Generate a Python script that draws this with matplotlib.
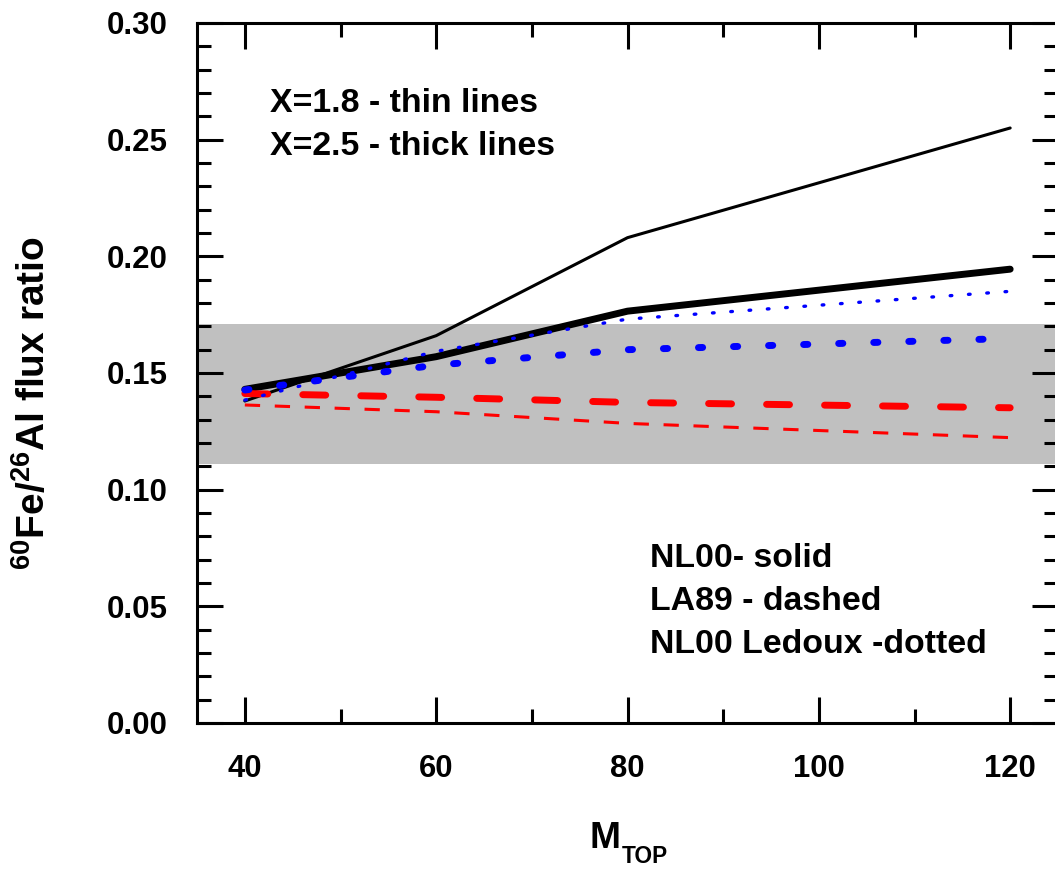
import matplotlib
matplotlib.use("Agg")
import matplotlib.pyplot as plt
from matplotlib.ticker import MultipleLocator, FormatStrFormatter

# ---- data ----
m_top = [40, 60, 80, 120]
nl00_x18 = [0.138, 0.166, 0.208, 0.255]
nl00_x25 = [0.143, 0.157, 0.1765, 0.1945]
la89_x18 = [0.1363, 0.1334, 0.1284, 0.1223]
la89_x25 = [0.1412, 0.1396, 0.1374, 0.1351]
ledoux_x18 = [0.1384, 0.1593, 0.1731, 0.185]
ledoux_x25 = [0.1427, 0.1534, 0.160, 0.1648]
band_low, band_high = 0.111, 0.171
x_ticks = [40, 60, 80, 100, 120]

plt.rcParams['font.family'] = ['Liberation Sans', 'DejaVu Sans']
plt.rcParams['font.weight'] = 'bold'
plt.rcParams['mathtext.default'] = 'regular'

W, H = 1055, 869
fig = plt.figure(figsize=(W / 100, H / 100), dpi=100)


def fx(px):
    return px / W


def fy(py):
    return (H - py) / H


ax = fig.add_axes([fx(197), fy(723), (1058 - 197) / W, (723 - 23) / H])

ax.axhspan(band_low, band_high, color='#c0c0c0', lw=0, zorder=0)

# solid (NL00)
ax.plot(m_top, nl00_x18, color='black', lw=2.2, solid_capstyle='round', zorder=2)
ax.plot(m_top, nl00_x25, color='black', lw=5.0, solid_capstyle='round', zorder=2)
# dashed (LA89)
ax.plot(m_top, la89_x18, color='red', lw=2.2, dashes=(5, 4.8), dash_capstyle='butt', zorder=3)
ax.plot(m_top, la89_x25, color='red', lw=5.0, dashes=(3.3, 5.05), dash_capstyle='round', zorder=3)
# dotted (NL00 Ledoux)
ax.plot(m_top, ledoux_x18, color='blue', lw=2.4, dashes=(0.5, 5.0), dash_capstyle='round', zorder=4)
ax.plot(m_top, ledoux_x25, color='blue', lw=5.0, dashes=(0.6, 4.45), dash_capstyle='round', zorder=4)

ax.set_xlim(35, 125)
ax.set_ylim(0.0, 0.30)
ax.set_xticks(x_ticks)
ax.xaxis.set_minor_locator(MultipleLocator(10))
ax.yaxis.set_major_locator(MultipleLocator(0.05))
ax.yaxis.set_minor_locator(MultipleLocator(0.01))
ax.yaxis.set_major_formatter(FormatStrFormatter('%.2f'))

for sp in ax.spines.values():
    sp.set_linewidth(2.2)

ax.tick_params(which='both', direction='in', top=True, right=True, width=2.2)
ax.tick_params(which='major', length=18.5)
ax.tick_params(which='minor', length=10)
ax.tick_params(axis='x', which='major', pad=22, labelsize=22.3)
ax.tick_params(axis='y', which='major', pad=21, labelsize=22.5)
for lab in ax.get_xticklabels() + ax.get_yticklabels():
    lab.set_fontweight('bold')

# annotations
fig.text(fx(270), fy(112), 'X=1.8 - thin lines', fontsize=24.4, fontweight='bold', va='baseline', ha='left')
fig.text(fx(270), fy(155), 'X=2.5 - thick lines', fontsize=24.4, fontweight='bold', va='baseline', ha='left')
fig.text(fx(650), fy(566.7), 'NL00- solid', fontsize=24.4, fontweight='bold', va='baseline', ha='left')
fig.text(fx(650), fy(610), 'LA89 - dashed', fontsize=24.4, fontweight='bold', va='baseline', ha='left')
fig.text(fx(650), fy(653), 'NL00 Ledoux -dotted', fontsize=24.4, fontweight='bold', va='baseline', ha='left')

# x label
fig.text(fx(589), fy(848.3), 'M', fontsize=26.7, fontweight='bold', va='baseline', ha='left')
fig.text(fx(621.7), fy(863.3), 'TOP', fontsize=16.3, fontweight='bold', va='baseline', ha='left')

# y label
fig.text(fx(33), fy(403), r'$^{60}$Fe/$^{26}$Al flux ratio', fontsize=28, fontweight='bold',
         rotation=90, ha='center', va='center')

fig.savefig('out.png', dpi=100)
